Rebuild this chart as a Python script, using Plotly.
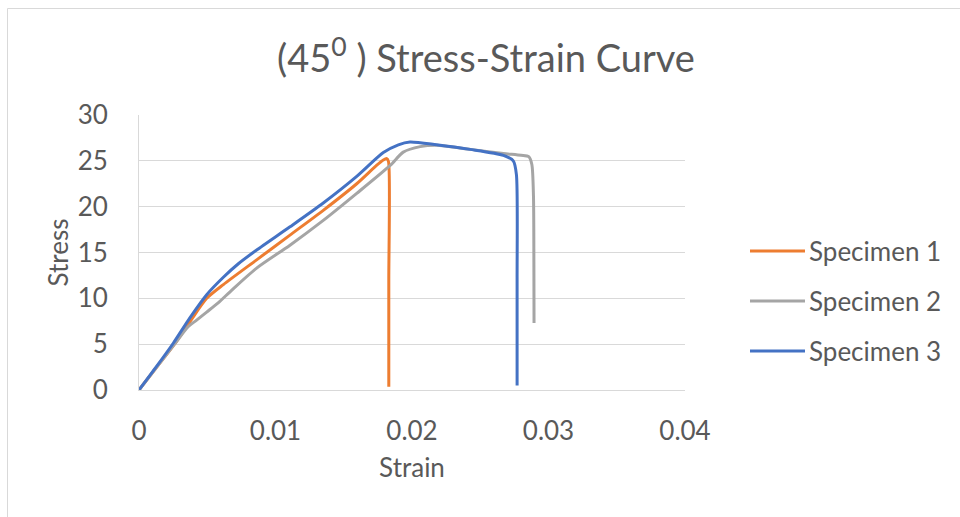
import plotly.graph_objects as go

# Specimen 1 (orange)
s1_strain = [0, 0.0013, 0.0026, 0.0038, 0.00496, 0.00618, 0.00862, 0.01106, 0.0135, 0.01595, 0.0174, 0.0179, 0.01815, 0.01828, 0.0183, 0.0183]
s1_stress = [0, 2.5, 5.0, 7.6, 10.0, 11.5, 14.2, 16.9, 19.6, 22.5, 24.5, 25.1, 25.25, 24.9, 12.0, 0.35]

# Specimen 2 (gray)
s2_strain = [0, 0.0013, 0.0026, 0.0036, 0.0042, 0.00496, 0.0058, 0.0068, 0.00862, 0.01106, 0.0135, 0.01595, 0.0184, 0.01936, 0.0206, 0.0218, 0.0243, 0.0267, 0.0280, 0.02855, 0.02878, 0.0289, 0.02893, 0.02894]
s2_stress = [0, 2.5, 5.0, 6.9, 7.6, 8.5, 9.5, 10.9, 13.3, 15.8, 18.5, 21.45, 24.5, 25.95, 26.55, 26.7, 26.25, 25.8, 25.6, 25.45, 24.6, 21.1, 14.0, 7.3]

# Specimen 3 (blue)
s3_strain = [0, 0.0013, 0.00251, 0.00374, 0.00496, 0.00618, 0.0073, 0.00862, 0.01106, 0.0135, 0.01595, 0.0179, 0.0190, 0.01985, 0.0218, 0.02425, 0.0267, 0.02742, 0.02765, 0.0277, 0.0277]
s3_stress = [0, 2.6, 5.1, 7.9, 10.4, 12.3, 13.8, 15.27, 17.8, 20.4, 23.3, 25.9, 26.75, 27.05, 26.75, 26.25, 25.6, 25.0, 23.5, 12.0, 0.5]

names = ["Specimen 1", "Specimen 2", "Specimen 3"]
colors = ["#ED7D31", "#A5A5A5", "#4472C4"]
x_ticks = [0, 0.01, 0.02, 0.03, 0.04]
x_tick_labels = ["0", "0.01", "0.02", "0.03", "0.04"]
y_ticks = [0, 5, 10, 15, 20, 25, 30]

FONT = "Lato"
TXT = "#595959"
L, R, T, B = 139, 275, 115, 127
PW, PH = 960 - L - R, 517 - T - B


def px(xp):
    return (xp - L) / PW


def py(yp):
    return (517 - B - yp) / PH


fig = go.Figure()
for i, (xs, ys) in enumerate([(s1_strain, s1_stress), (s2_strain, s2_stress), (s3_strain, s3_stress)]):
    fig.add_trace(go.Scatter(
        x=xs, y=ys, mode="lines", name=names[i], showlegend=False,
        line=dict(color=colors[i], width=3, shape="spline", smoothing=0.7),
    ))

fig.update_layout(
    width=960, height=517,
    margin=dict(l=L, r=R, t=T, b=B),
    paper_bgcolor="white", plot_bgcolor="white",
    font=dict(family=FONT, color=TXT, size=26),
    title=dict(text="(45<sup>0</sup> ) Stress-Strain Curve", x=486 / 960, xref="container",
               xanchor="center", y=1 - 59 / 517, yref="container", yanchor="middle",
               font=dict(family=FONT, size=38, color=TXT)),
    showlegend=False,
    xaxis=dict(range=[0, 0.04], tickvals=x_ticks, ticktext=x_tick_labels,
               showgrid=False, zeroline=False, showline=True, linecolor="#d9d9d9", linewidth=1,
               ticks="", ticklabelstandoff=18, tickfont=dict(size=26, color=TXT),
               title=dict(text="Strain", font=dict(size=26, color=TXT), standoff=13)),
    yaxis=dict(range=[0, 30], tickvals=y_ticks,
               showgrid=True, gridcolor="#d9d9d9", gridwidth=1, zeroline=False,
               showline=True, linecolor="#d9d9d9", linewidth=1,
               ticks="", ticklabelstandoff=25, tickfont=dict(size=26, color=TXT),
               title=dict(text="Stress", font=dict(size=26, color=TXT), standoff=1)),
)

# manual legend
leg_y = [251, 301, 351]
for i in range(3):
    fig.add_shape(type="line", xref="paper", yref="paper",
                  x0=px(750), x1=px(805), y0=py(leg_y[i]), y1=py(leg_y[i]),
                  line=dict(color=colors[i], width=3))
    fig.add_annotation(xref="paper", yref="paper", x=px(807), y=py(leg_y[i]),
                       text=names[i], showarrow=False, xanchor="left", yanchor="middle",
                       font=dict(family=FONT, size=26, color=TXT))

# chart frame
fig.add_shape(type="rect", xref="paper", yref="paper",
              x0=px(7.5), x1=px(975), y0=py(530), y1=py(8.5),
              line=dict(color="#d9d9d9", width=1), fillcolor="rgba(0,0,0,0)", layer="below")

fig.write_html("out.html")
